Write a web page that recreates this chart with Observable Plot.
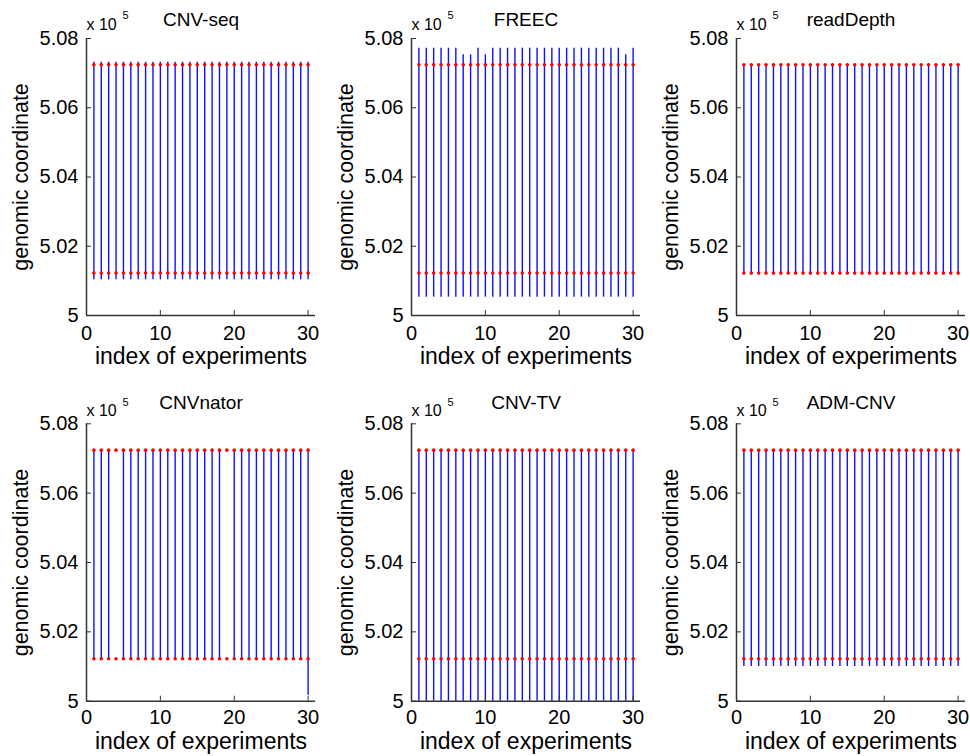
<!DOCTYPE html>
<html><head><meta charset="utf-8">
<script src="https://cdn.jsdelivr.net/npm/d3@7"></script>
<script src="https://cdn.jsdelivr.net/npm/@observablehq/plot@0.6"></script>
<style>
body{margin:0;background:#fff;}
#wrap{position:relative;width:970px;height:756px;overflow:hidden;background:#fff;}
.panel{position:absolute;}
</style></head><body><div id="wrap"></div>
<script>
const experiments = [1,2,3,4,5,6,7,8,9,10,11,12,13,14,15,16,17,18,19,20,21,22,23,24,25,26,27,28,29,30];
const methods = ["CNV-seq","FREEC","readDepth","CNVnator","CNV-TV","ADM-CNV"];
// true CNV boundaries (red dots)
const truthStart = 501225;
const truthEnd = 507240;
// detected boundaries (blue lines) per experiment
const cnvseqStart = [501030,501030,501030,501030,501030,501030,501030,501030,501030,501030,501030,501030,501030,501030,501030,501030,501030,501030,501030,501030,501030,501030,501030,501030,501030,501030,501030,501030,501030,501030];
const cnvseqEnd   = [507315,507315,507315,507315,507315,507315,507315,507315,507315,507315,507315,507315,507315,507315,507315,507315,507315,507315,507315,507315,507315,507315,507315,507315,507315,507315,507315,507315,507315,507315];
const freecStart  = [500530,500530,500530,500530,500530,500530,500530,500530,500530,500530,500530,500530,500530,500530,500530,500530,500530,500530,500530,500530,500530,500530,500530,500530,500530,500530,500530,500530,500530,500530];
const freecEnd    = [507720,507720,507720,507720,507720,507720,507530,507530,507720,507530,507720,507720,507720,507720,507720,507720,507720,507720,507720,507720,507720,507720,507720,507720,507720,507720,507720,507720,507530,507720];
const readDepthStart = [501225,501225,501225,501225,501225,501225,501225,501225,501225,501225,501225,501225,501225,501225,501225,501225,501225,501225,501225,501225,501225,501225,501225,501225,501225,501225,501225,501225,501225,501225];
const readDepthEnd   = [507240,507240,507240,507240,507240,507240,507240,507240,507240,507240,507240,507240,507240,507240,507240,507240,507240,507240,507240,507240,507240,507240,507240,507240,507240,507240,507240,507240,507240,507240];
const cnvnatorStart = [501225,501225,501225,null,501225,501225,501225,501225,501225,501225,501225,501225,501225,501225,501225,501225,501225,501225,null,501225,501225,501225,501225,501225,501225,501225,501225,501225,501225,500170];
const cnvnatorEnd   = [507240,507240,507240,null,507240,507240,507240,507240,507240,507240,507240,507240,507240,507240,507240,507240,507240,507240,null,507240,507240,507240,507240,507240,507240,507240,507240,507240,507240,507240];
const cnvtvStart = [500000,500000,500000,500000,500000,500000,500000,500000,500000,500000,500000,500000,500000,500000,500000,500000,500000,500000,500000,500000,500000,500000,500000,500000,500000,500000,500000,500000,500000,500000];
const cnvtvEnd   = [507240,507240,507240,507240,507240,507240,507240,507240,507240,507240,507240,507240,507240,507240,507240,507240,507240,507240,507240,507240,507240,507240,507240,507240,507240,507240,507240,507240,507240,507240];
const admStart = [501000,501000,501000,501000,501000,501000,501000,501000,501000,501000,501000,501000,501000,501000,501000,501000,501000,501000,501000,501000,501000,501000,501000,501000,501000,501000,501000,501000,501000,501000];
const admEnd   = [507240,507240,507240,507240,507240,507240,507240,507240,507240,507240,507240,507240,507240,507240,507240,507240,507240,507240,507240,507240,507240,507240,507240,507240,507240,507240,507240,507240,507240,507240];

const xTicks = [0,10,20,30];
const yTicks = [500000,502000,504000,506000,508000];
const yTickLabels = ["5","5.02","5.04","5.06","5.08"];
const xLabel = "index of experiments";
const yLabel = "genomic coordinate";
const scaleLabel = "x 10";
const scaleExp = "5";

const starts = [cnvseqStart, freecStart, readDepthStart, cnvnatorStart, cnvtvStart, admStart];
const ends = [cnvseqEnd, freecEnd, readDepthEnd, cnvnatorEnd, cnvtvEnd, admEnd];

const FONT = "'Liberation Sans', Arial, Helvetica, sans-serif";
const rowCfg = [
  {top: 0, mt: 38, mb: 63, titleDy: -13, expDy: -9, supDy: -20, xlabDy: 41.5, tickPad: 15},
  {top: 378, mt: 45.3, mb: 55.3, titleDy: -15, expDy: -8.3, supDy: -18, xlabDy: 40, tickPad: 14}
];
const colLeft = [0, 325, 650];

function panel(k) {
  const row = Math.floor(k / 3), col = k % 3;
  const cfg = rowCfg[row];
  const segs = experiments.map((e, i) => ({e, s: starts[k][i], t: ends[k][i]})).filter(d => d.s != null);
  const truth = experiments.map(e => ({e, a: truthStart, b: truthEnd}));
  const svg = Plot.plot({
    width: 325, height: 378,
    marginLeft: 86, marginRight: 10, marginTop: cfg.mt, marginBottom: cfg.mb,
    style: {fontFamily: FONT, background: "transparent", color: "#000", overflow: "visible"},
    x: {domain: [0, 31], axis: null},
    y: {domain: [500000, 508000], axis: null},
    marks: [
      Plot.ruleX(segs, {x: "e", y1: "s", y2: "t", stroke: "#1010ff", strokeWidth: 1.4}),
      Plot.dot(truth, {x: "e", y: "a", r: 1.8, fill: "#ff0000", stroke: null}),
      Plot.dot(truth, {x: "e", y: "b", r: 1.8, fill: "#ff0000", stroke: null}),
      Plot.ruleX([0], {stroke: "#333", strokeWidth: 1.5}),
      Plot.ruleY([500000], {stroke: "#333", strokeWidth: 1.5}),
      Plot.axisX(xTicks, {anchor: "bottom", tickSize: -5, tickPadding: cfg.tickPad, fontSize: 20, stroke: "#333", label: null, tickFormat: d => String(d)}),
      Plot.axisY(yTicks, {anchor: "left", tickSize: -5, tickPadding: 13, fontSize: 20, stroke: "#333", label: null, tickFormat: d => yTickLabels[yTicks.indexOf(d)]}),
      Plot.text([methods[k]], {frameAnchor: "top", dy: cfg.titleDy, lineAnchor: "bottom", textAnchor: "middle", fontSize: 19, fill: "#000"}),
      Plot.text([scaleLabel], {frameAnchor: "top-left", dy: cfg.expDy, lineAnchor: "bottom", textAnchor: "start", fontSize: 16, fill: "#000"}),
      Plot.text([scaleExp], {frameAnchor: "top-left", dx: 36, dy: cfg.supDy, lineAnchor: "bottom", textAnchor: "start", fontSize: 11, fill: "#000"}),
      Plot.text([xLabel], {frameAnchor: "bottom", dy: cfg.xlabDy, lineAnchor: "middle", textAnchor: "middle", fontSize: 23, fill: "#000"}),
      Plot.text([yLabel], {frameAnchor: "left", dx: -65, rotate: -90, lineAnchor: "middle", textAnchor: "middle", fontSize: 21.5, fill: "#000"})
    ]
  });
  svg.classList.add("panel");
  svg.style.left = colLeft[col] + "px";
  svg.style.top = cfg.top + "px";
  document.getElementById("wrap").appendChild(svg);
}
for (let k = 0; k < 6; k++) panel(k);
</script>
</body></html>
